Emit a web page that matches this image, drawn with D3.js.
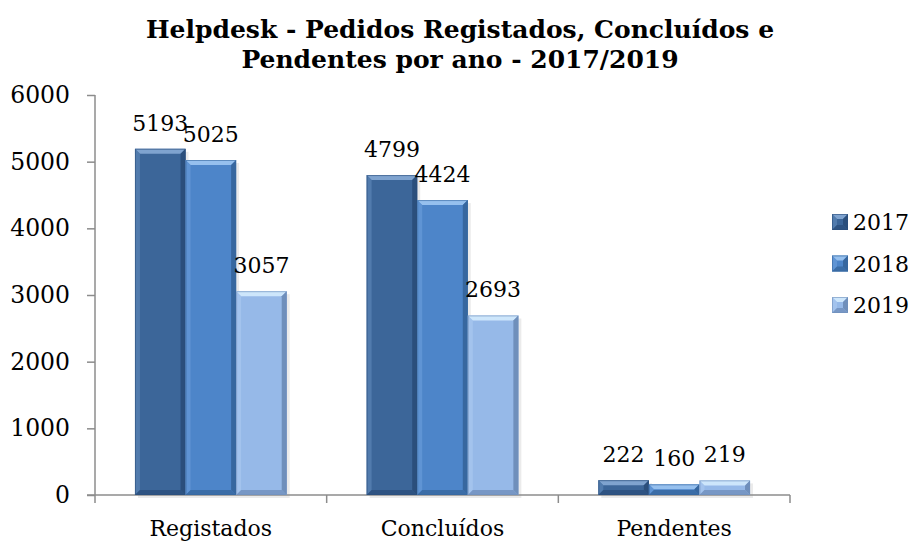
<!DOCTYPE html>
<html>
<head>
<meta charset="utf-8">
<script src="https://cdn.jsdelivr.net/npm/d3@7"></script>
<style>
  body { margin: 0; background: #fff; }
  text { font-family: "DejaVu Serif", serif; fill: #000; }
</style>
</head>
<body>
<script>
let width = 914;
let height = 542;

const categories = ['Registados', 'Concluídos', 'Pendentes'];
const years = ['2017', '2018', '2019'];
const values2017 = [5193, 4799, 222];
const values2018 = [5025, 4424, 160];
const values2019 = [3057, 2693, 219];
const yTicks = [0, 1000, 2000, 3000, 4000, 5000, 6000];
const titleLines = ['Helpdesk - Pedidos Registados, Concluídos e', 'Pendentes por ano - 2017/2019'];

const colors = {
  '2017': {base: '#3c6699', light: '#5f88bb', top: '#7fa3cf', dark: '#2b4f7c'},
  '2018': {base: '#4d85c9', light: '#6d9fdc', top: '#96c0ee', dark: '#37679f'},
  '2019': {base: '#96b9e8', light: '#acc9f0', top: '#cde6fb', dark: '#6f8fbb'}
};

const series = years.map((y, i) => ({
  year: y,
  values: [values2017, values2018, values2019][i]
}));

const margin = {left: 95, right: 124, top: 95, bottom: 47};

const svg = d3.select('body')
  .append('svg')
  .attr('width', width)
  .attr('height', height);

let x0 = d3.scaleBand()
  .domain(categories)
  .range([margin.left, width - margin.right])
  .paddingInner(0.345)
  .paddingOuter(0.1725);

let x1 = d3.scaleBand()
  .domain(years)
  .range([0, x0.bandwidth()]);

let y = d3.scaleLinear()
  .domain([0, 6000])
  .range([height - margin.bottom, margin.top]);

// title
svg.append('g').selectAll('text').data(titleLines)
  .enter().append('text')
    .attr('x', 460)
    .attr('y', (d, i) => 38 + i * 30)
    .attr('text-anchor', 'middle')
    .style('font-size', '25px')
    .style('font-weight', 'bold')
    .text(d => d);

// y axis
let yAxis = svg.append('g')
  .attr('transform', 'translate(' + margin.left + ',0)')
  .call(d3.axisLeft(y).tickValues(yTicks).tickSize(8).tickPadding(17).tickFormat(d3.format('d')));
yAxis.select('.domain').attr('stroke', '#8c8c8c').attr('stroke-width', 1.5)
  .attr('d', 'M0,' + y(6000) + 'V' + (y(0) + 8));
yAxis.selectAll('.tick line').attr('stroke', '#8c8c8c').attr('stroke-width', 1.5);
yAxis.selectAll('.tick text').style('font-size', '23.5px').style('font-family', '"DejaVu Serif", serif');

// shadows
let shadowG = svg.append('g');
series.forEach(s => {
  shadowG.selectAll(null).data(s.values)
    .enter().append('rect')
      .attr('x', (d, i) => x0(categories[i]) + x1(s.year) + 3)
      .attr('y', d => y(d) + 3)
      .attr('width', x1.bandwidth())
      .attr('height', d => y(0) - y(d))
      .attr('fill', '#000')
      .attr('opacity', 0.08);
});

// x axis
let xAxisG = svg.append('g');
xAxisG.append('line')
  .attr('x1', margin.left - 8).attr('x2', width - margin.right)
  .attr('y1', y(0)).attr('y2', y(0))
  .attr('stroke', '#8c8c8c').attr('stroke-width', 1.5);
let edges = categories.map(c => x0(c) - x0.step() * x0.paddingInner() / 2)
  .concat([width - margin.right]);
xAxisG.selectAll('.xtick').data(edges.slice(1))
  .enter().append('line')
    .attr('x1', d => d).attr('x2', d => d)
    .attr('y1', y(0)).attr('y2', y(0) + 8)
    .attr('stroke', '#8c8c8c').attr('stroke-width', 1.5);
xAxisG.selectAll('.xlabel').data(categories)
  .enter().append('text')
    .attr('x', d => x0(d) + x0.bandwidth() / 2)
    .attr('y', y(0) + 41)
    .attr('text-anchor', 'middle')
    .style('font-size', '22px')
    .text(d => d);

function bevelBar(g, x, yTop, w, h, c) {
  let b = Math.min(5, h / 2);
  g.append('rect').attr('x', x).attr('y', yTop).attr('width', w).attr('height', h)
    .attr('fill', c.base);
  // top
  g.append('polygon')
    .attr('points', [[x, yTop], [x + w, yTop], [x + w - b, yTop + b], [x + b, yTop + b]].join(' '))
    .attr('fill', c.top);
  // left
  g.append('polygon')
    .attr('points', [[x, yTop], [x + b, yTop + b], [x + b, yTop + h - b], [x, yTop + h]].join(' '))
    .attr('fill', c.light).attr('opacity', 0.6);
  // right
  g.append('polygon')
    .attr('points', [[x + w, yTop], [x + w, yTop + h], [x + w - b, yTop + h - b], [x + w - b, yTop + b]].join(' '))
    .attr('fill', c.dark);
  // bottom
  g.append('polygon')
    .attr('points', [[x, yTop + h], [x + w, yTop + h], [x + w - b, yTop + h - b], [x + b, yTop + h - b]].join(' '))
    .attr('fill', c.dark).attr('opacity', 0.8);
  g.append('rect').attr('x', x + 0.5).attr('y', yTop + 0.5).attr('width', w - 1).attr('height', h - 1)
    .attr('fill', 'none').attr('stroke', c.dark).attr('stroke-width', 1).attr('opacity', 0.6);
}

// bars
let barsG = svg.append('g');
series.forEach(s => {
  s.values.forEach((v, i) => {
    let bx = x0(categories[i]) + x1(s.year);
    bevelBar(barsG, bx, y(v), x1.bandwidth(), y(0) - y(v), colors[s.year]);
  });
});

// value labels
let labelsG = svg.append('g');
series.forEach(s => {
  labelsG.selectAll(null).data(s.values)
    .enter().append('text')
      .attr('x', (d, i) => x0(categories[i]) + x1(s.year) + x1.bandwidth() / 2)
      .attr('y', d => y(d) - 18)
      .attr('text-anchor', 'middle')
      .style('font-size', '22px')
      .text(d => d);
});

// legend
let legend = svg.append('g').attr('transform', 'translate(832,214)');
years.forEach((yr, i) => {
  let g = legend.append('g').attr('transform', 'translate(0,' + (i * 41.5) + ')');
  bevelBar(g, 0, 0, 16, 16, colors[yr]);
  g.append('text')
    .attr('x', 21).attr('y', 16)
    .style('font-size', '22px')
    .text(yr);
});
</script>
</body>
</html>
